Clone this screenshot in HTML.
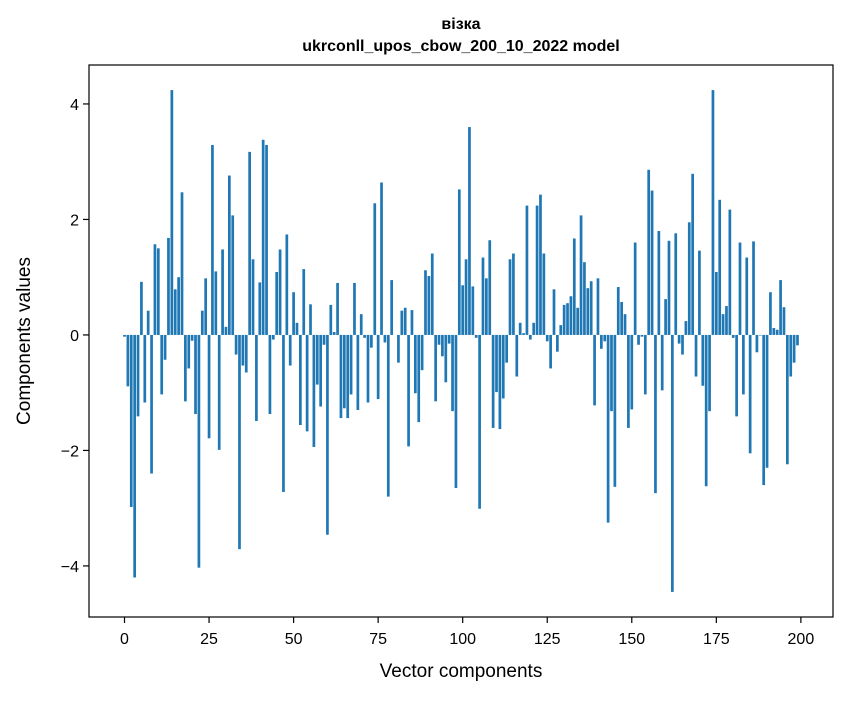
<!DOCTYPE html>
<html><head><meta charset="utf-8"><style>
body{margin:0;background:#fff;}
svg text{font-family:"Liberation Sans","DejaVu Sans",sans-serif;fill:#000;}
</style></head><body>
<svg id="chart" width="847" height="696" xmlns="http://www.w3.org/2000/svg">
<rect width="847" height="696" fill="#fff"/>
<text x="461" y="29" font-size="16" font-weight="bold" text-anchor="middle">візка</text>
<text x="461" y="51" font-size="16" font-weight="bold" text-anchor="middle">ukrconll_upos_cbow_200_10_2022 model</text>
<g id="bars"></g>
<g id="xticks"></g>
<g id="yticks"></g>
<rect x="89" y="65" width="744" height="552" fill="none" stroke="#000" stroke-width="1.2"/>
<text x="461" y="677" font-size="19" text-anchor="middle">Vector components</text>
<text transform="translate(30,341) rotate(-90)" font-size="19" text-anchor="middle">Components values</text>
</svg>
<script>
const values = [-0.03,-0.89,-2.98,-4.2,-1.41,0.92,-1.17,0.42,-2.4,1.57,1.5,-1.03,-0.43,1.68,4.24,0.79,1.0,2.47,-1.15,-0.58,-0.1,-1.37,-4.03,0.42,0.98,-1.79,3.29,1.1,-1.99,1.48,0.14,2.76,2.07,-0.34,-3.71,-0.53,-0.65,3.17,1.31,-1.49,0.91,3.38,3.29,-1.37,-0.08,1.09,1.48,-2.72,1.74,-0.53,
0.74,0.21,-1.56,1.14,-1.67,0.53,-1.94,-0.86,-1.24,-0.17,-3.46,0.52,0.05,0.9,-1.44,-1.27,-1.44,-1.03,0.9,-1.3,0.36,-0.05,-1.17,-0.22,2.28,-1.11,2.64,-0.13,-2.8,0.95,0.0,-0.48,0.42,0.47,-1.93,0.43,-1.01,-1.51,-0.61,1.12,1.02,1.41,-1.15,-0.17,-0.37,-0.82,-0.15,-1.32,-2.65,2.52,
0.86,1.31,3.6,0.84,-0.05,-3.01,1.34,0.98,1.64,-1.61,-0.99,-1.63,-1.1,-0.48,1.31,1.41,-0.72,0.21,0.03,2.24,-0.08,0.21,2.24,2.43,1.41,-0.11,-0.58,0.79,-0.29,0.17,0.52,0.55,0.67,1.67,0.47,2.07,1.26,0.81,0.93,-1.22,0.98,-0.24,-0.11,-3.25,-1.32,-2.63,0.83,0.57,0.36,-1.61,
-1.29,1.6,-0.17,-0.03,-1.03,2.86,2.5,-2.74,1.8,-0.96,0.62,1.63,-4.45,1.76,-0.15,-0.34,0.24,1.95,2.79,-0.72,1.46,-0.88,-2.62,-1.32,4.24,1.09,2.34,0.36,0.5,2.17,-0.05,-1.41,1.6,-1.03,1.34,-2.05,1.62,-0.3,-0.01,-2.6,-2.3,0.74,0.12,0.09,0.95,0.48,-2.24,-0.72,-0.48,-0.18];
const xTicks = [0,25,50,75,100,125,150,175,200];
const yTicks = [-4,-2,0,2,4];
const yTickLabels = ["\u22124","\u22122","0","2","4"];

const NS = "http://www.w3.org/2000/svg";
const X0 = 89, X1 = 833, Y0 = 65, Y1 = 617;
const n = values.length;
const xmin = -0.5 - 0.05*(n), xmax = n - 0.5 + 0.05*(n);
const vmin = Math.min(...values, 0), vmax = Math.max(...values, 0);
const ymin = vmin - 0.05*(vmax - vmin), ymax = vmax + 0.05*(vmax - vmin);
function xs(v){ return X0 + (v - xmin) / (xmax - xmin) * (X1 - X0); }
function ys(v){ return Y1 - (v - ymin) / (ymax - ymin) * (Y1 - Y0); }

const bars = document.getElementById('bars');
values.forEach((v, i) => {
  const r = document.createElementNS(NS, 'rect');
  
  
  const l = xs(i - 0.4), w = xs(i + 0.4) - l;
  const top = ys(Math.max(v, 0)), bot = ys(Math.min(v, 0));
  r.setAttribute('x', l); r.setAttribute('width', w);
  r.setAttribute('y', top); r.setAttribute('height', Math.max(bot - top, 0));
  r.setAttribute('fill', '#1f77b4');
  bars.appendChild(r);
});

const xg = document.getElementById('xticks');
xTicks.forEach(t => {
  const x = xs(t);
  const ln = document.createElementNS(NS, 'line');
  
  
  ln.setAttribute('x1', x); ln.setAttribute('x2', x); ln.setAttribute('y1', Y1); ln.setAttribute('y2', Y1 + 6);
  ln.setAttribute('stroke', '#000'); ln.setAttribute('stroke-width', '1.2');
  xg.appendChild(ln);
  const tx = document.createElementNS(NS, 'text');
  
  
  tx.setAttribute('x', x); tx.setAttribute('y', Y1 + 27);
  tx.setAttribute('font-size', '16'); tx.setAttribute('text-anchor', 'middle');
  tx.textContent = String(t);
  xg.appendChild(tx);
});

const yg = document.getElementById('yticks');
yTicks.forEach((t, k) => {
  const y = ys(t);
  const ln = document.createElementNS(NS, 'line');
  
  
  ln.setAttribute('x1', X0 - 6); ln.setAttribute('x2', X0); ln.setAttribute('y1', y); ln.setAttribute('y2', y);
  ln.setAttribute('stroke', '#000'); ln.setAttribute('stroke-width', '1.2');
  yg.appendChild(ln);
  const tx = document.createElementNS(NS, 'text');
  
  
  tx.setAttribute('x', X0 - 10); tx.setAttribute('y', y + 6);
  tx.setAttribute('font-size', '16'); tx.setAttribute('text-anchor', 'end');
  tx.textContent = yTickLabels[k];
  yg.appendChild(tx);
});
</script>
</body></html>
